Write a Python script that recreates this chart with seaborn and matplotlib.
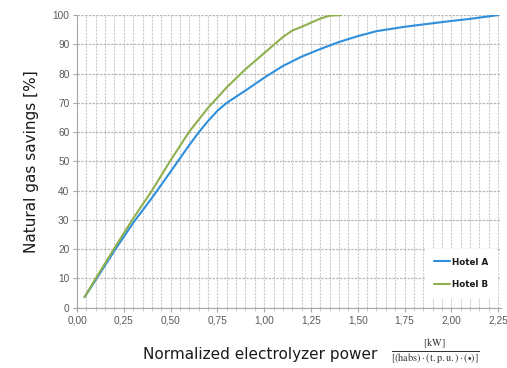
import matplotlib
matplotlib.use("Agg")
import matplotlib.pyplot as plt
import matplotlib.ticker as mticker
import seaborn as sns
import pandas as pd

# ---- data ----
hotel_a_x = [0.04, 0.10, 0.20, 0.30, 0.40, 0.50, 0.60, 0.65, 0.70, 0.75, 0.80,
             0.90, 1.00, 1.10, 1.20, 1.30, 1.40, 1.50, 1.60, 1.75, 1.90, 2.00,
             2.10, 2.25]
hotel_a_y = [3.6, 9.5, 19.5, 29.0, 37.5, 46.5, 55.6, 59.9, 63.8, 67.3, 70.0,
             74.2, 78.6, 82.6, 85.8, 88.4, 90.8, 92.8, 94.5, 96.0, 97.2, 98.0,
             98.7, 100.0]
hotel_b_x = [0.04, 0.10, 0.20, 0.30, 0.40, 0.50, 0.60, 0.70, 0.80, 0.90, 1.00,
             1.10, 1.15, 1.20, 1.30, 1.35, 1.41]
hotel_b_y = [3.6, 10.0, 20.4, 30.5, 40.0, 50.4, 60.2, 68.3, 75.3, 81.5, 87.0,
             92.5, 94.7, 96.0, 98.8, 99.8, 100.0]
series_names = ["Hotel A", "Hotel B"]
y_ticks = list(range(0, 101, 10))
x_ticks = [0.00, 0.25, 0.50, 0.75, 1.00, 1.25, 1.50, 1.75, 2.00, 2.25]

df = pd.concat([
    pd.DataFrame({"x": hotel_a_x, "y": hotel_a_y, "Hotel": series_names[0]}),
    pd.DataFrame({"x": hotel_b_x, "y": hotel_b_y, "Hotel": series_names[1]}),
], ignore_index=True)

sns.set_style("white")
plt.rcParams["font.family"] = ["DejaVu Sans"]
plt.rcParams["mathtext.fontset"] = "stix"

fig = plt.figure(figsize=(5.07, 3.68), dpi=100)
ax = fig.add_axes([0.152, 0.164, 0.836, 0.795])

palette = {"Hotel A": "#2f8fdc", "Hotel B": "#8fb04e"}
sns.lineplot(data=df, x="x", y="y", hue="Hotel", palette=palette,
             linewidth=1.5, ax=ax, sort=False, estimator=None)

ax.set_xlim(0, 2.265)
ax.set_ylim(0, 100)
ax.set_xticks(x_ticks)
ax.xaxis.set_minor_locator(mticker.MultipleLocator(0.05))
ax.set_yticks(y_ticks)
ax.xaxis.set_major_formatter(mticker.FuncFormatter(lambda v, p: f"{v:.2f}".replace(".", ",")))

ax.grid(which="major", axis="y", color="#b8b8b8", linestyle=(0, (2, 1)), linewidth=0.9)
ax.grid(which="both", axis="x", color="#cccccc", linestyle=(0, (2, 1)), linewidth=0.8)
ax.set_axisbelow(True)

for s in ["top", "right"]:
    ax.spines[s].set_visible(False)
for s in ["left", "bottom"]:
    ax.spines[s].set_color("#a6a6a6")
    ax.spines[s].set_linewidth(0.8)

ax.tick_params(axis="both", which="major", labelsize=7.3, labelcolor="#595959",
               color="#a6a6a6", length=3, width=0.8, direction="out",
               left=True, bottom=True, pad=2.5)
ax.tick_params(axis="x", which="minor", color="#c0c0c0", length=2, bottom=True)
for lab in ax.get_xticklabels() + ax.get_yticklabels():
    lab.set_fontfamily("Liberation Sans")

ax.set_xlabel("")
ax.set_ylabel("Natural gas savings [%]", fontsize=11, color="#1a1a1a", labelpad=10)

leg = ax.legend(loc="lower right", bbox_to_anchor=(1.0, 0.02), frameon=True,
                fontsize=6.3, handlelength=1.8, handletextpad=0.2,
                labelspacing=1.5, borderpad=1.0, title=None)
leg.get_frame().set_facecolor("white")
leg.get_frame().set_edgecolor("white")
leg.get_frame().set_alpha(1.0)
for t in leg.get_texts():
    t.set_fontweight("bold")
    t.set_color("#1a1a1a")
for ln in leg.get_lines():
    ln.set_linewidth(1.5)

fig.text(0.513, 0.037, "Normalized electrolyzer power", fontsize=11,
         color="#1a1a1a", ha="center", va="center")
fig.text(0.858, 0.045,
         r"$\frac{[\mathrm{kW}]}{[(\mathrm{habs})\cdot(\mathrm{t.p.u.})\cdot(\bullet)]}$",
         fontsize=10.5, color="#333333", ha="center", va="center")

fig.savefig("out.png", dpi=100)
